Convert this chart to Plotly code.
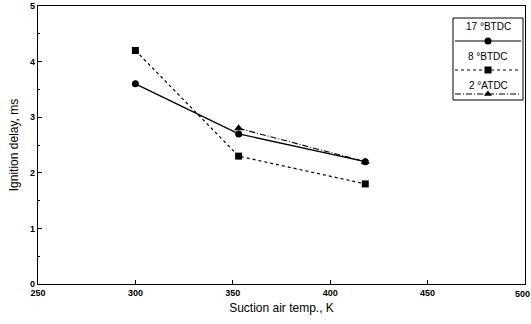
import plotly.graph_objects as go

# Data
temps_17btdc = [300, 353, 418]
delay_17btdc = [3.6, 2.7, 2.2]
temps_8btdc = [300, 353, 418]
delay_8btdc = [4.2, 2.3, 1.8]
temps_2atdc = [353, 418]
delay_2atdc = [2.8, 2.2]
series_names = ["17 °BTDC", "8 °BTDC", "2 °ATDC"]
x_ticks = [250, 300, 350, 400, 450, 500]
x_tick_labels = ["250", "300", "350", "400", "450", ""]
y_ticks = [0, 1, 2, 3, 4, 5]

W, H = 531, 324
L, R, T, B = 38, 6, 6, 40

fig = go.Figure()
line_c = "black"
fig.add_trace(go.Scatter(x=temps_17btdc, y=delay_17btdc, mode="lines+markers",
                         line=dict(color=line_c, width=1.3, dash="solid"),
                         marker=dict(symbol="circle", size=7, color=line_c), showlegend=False))
fig.add_trace(go.Scatter(x=temps_8btdc, y=delay_8btdc, mode="lines+markers",
                         line=dict(color=line_c, width=1.2, dash="3px,3px"),
                         marker=dict(symbol="square", size=7, color=line_c), showlegend=False))
fig.add_trace(go.Scatter(x=temps_2atdc, y=delay_2atdc, mode="lines+markers",
                         line=dict(color=line_c, width=1.1, dash="6px,2px,1px,2px"),
                         marker=dict(symbol="triangle-up", size=8, color=line_c), showlegend=False))

# Last x tick label, nudged left so it stays inside the page
fig.add_annotation(x=x_ticks[-1], y=0, xref="x", yref="y", text="500", showarrow=False,
                   xanchor="right", yanchor="top", xshift=7, yshift=-3,
                   font=dict(family="Liberation Sans", size=9, color="black", weight="bold"))

# Custom legend on overlay pixel axes
leg_text_y = [26, 56, 85]
leg_line_y = [41, 70, 94]
dashes = ["solid", "3px,3px", "6px,2px,1px,2px"]
symbols = ["circle", "square", "triangle-up"]
for i in range(3):
    fig.add_trace(go.Scatter(x=[455, 488, 521], y=[leg_line_y[i]] * 3, mode="lines",
                             line=dict(color=line_c, width=1.1, dash=dashes[i]),
                             xaxis="x2", yaxis="y2", showlegend=False, hoverinfo="skip"))
    fig.add_trace(go.Scatter(x=[488], y=[leg_line_y[i]], mode="markers",
                             marker=dict(symbol=symbols[i], size=7, color=line_c),
                             xaxis="x2", yaxis="y2", showlegend=False, hoverinfo="skip"))
    fig.add_annotation(x=488, y=leg_text_y[i], xref="x2", yref="y2", text=series_names[i],
                       showarrow=False, font=dict(family="Liberation Sans", size=10, color="black"))
fig.add_shape(type="rect", x0=453, x1=523, y0=18, y1=100, xref="x2", yref="y2",
              line=dict(color="black", width=1))

axis_common = dict(showline=True, linecolor="black", linewidth=1.3, mirror=True,
                   ticks="inside", ticklen=4, tickcolor="black", showgrid=False, zeroline=False,
                   ticklabeloverflow="allow", automargin=False,
                   tickfont=dict(family="Liberation Sans", size=9, color="black", weight="bold"))
fig.update_layout(
    width=W, height=H, margin=dict(l=L, r=R, t=T, b=B, autoexpand=False),
    paper_bgcolor="white", plot_bgcolor="white",
    xaxis=dict(range=[250, 500], tickvals=x_ticks, ticktext=x_tick_labels,
               title=dict(text="Suction air temp., K", standoff=6,
               font=dict(family="Liberation Sans", size=12, color="black")), **axis_common),
    yaxis=dict(range=[0, 5], tickvals=y_ticks, title=dict(text="Ignition delay, ms", standoff=8,
               font=dict(family="Liberation Sans", size=12, color="black")),
               minor=dict(ticks="inside", ticklen=2, dtick=0.5, tickcolor="black"), **axis_common),
    xaxis2=dict(range=[L, W - R], overlaying="x", visible=False, fixedrange=True, automargin=False),
    yaxis2=dict(range=[H - B, T], overlaying="y", visible=False, fixedrange=True, automargin=False),
)
fig.write_html("out.html", config={"displayModeBar": False},
               post_script="document.body.style.margin='0';")
